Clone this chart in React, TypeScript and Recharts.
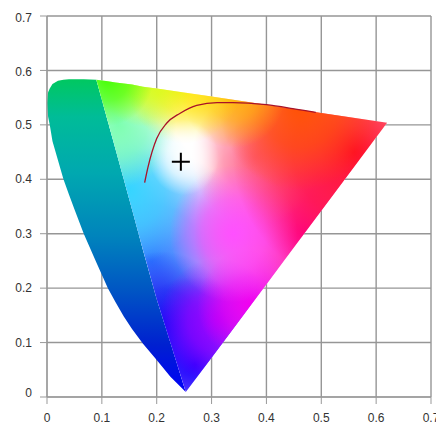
import { ComposedChart, Area, Line, Scatter, XAxis, YAxis, CartesianGrid } from 'recharts';

// u' / v' outline of the colour region
const wedgeU = [0, 0.002, 0.005, 0.01, 0.02, 0.03, 0.04, 0.05, 0.067, 0.09, 0.111, 0.125, 0.14, 0.155, 0.175, 0.2, 0.225, 0.253];
const wedgeLow = [0.54, 0.515, 0.5, 0.47, 0.435, 0.4, 0.372, 0.345, 0.3, 0.247, 0.2, 0.174, 0.148, 0.125, 0.098, 0.068, 0.037, 0.009];
const wedgeHigh = [0.54, 0.56, 0.567, 0.575, 0.581, 0.583, 0.584, 0.584, 0.584, 0.583, 0.506, 0.455, 0.4, 0.345, 0.27, 0.18, 0.1, 0.009];

const fanU = [0.09, 0.111, 0.125, 0.14, 0.155, 0.175, 0.2, 0.225, 0.253, 0.3, 0.4, 0.5, 0.62];
const fanLow = [0.583, 0.506, 0.455, 0.4, 0.345, 0.27, 0.18, 0.1, 0.009, 0.072, 0.207, 0.342, 0.504];
const fanHigh = [0.583, 0.58, 0.578, 0.576, 0.574, 0.57, 0.567, 0.563, 0.559, 0.552, 0.537, 0.522, 0.504];

// black body curve
const curveU = [0.178, 0.184, 0.2, 0.218, 0.242, 0.273, 0.31, 0.339, 0.4, 0.448, 0.49];
const curveV = [0.394, 0.422, 0.475, 0.503, 0.521, 0.536, 0.541, 0.541, 0.537, 0.53, 0.523];

const markerU = [0.244];
const markerV = [0.432];

const xTicks = [0, 0.1, 0.2, 0.3, 0.4, 0.5, 0.6, 0.7];
const yTicks = [0, 0.1, 0.2, 0.3, 0.4, 0.5, 0.6, 0.7];

const wedgeData = wedgeU.map((u, i) => ({ u, range: [wedgeLow[i], wedgeHigh[i]] }));
const fanData = fanU.map((u, i) => ({ u, range: [fanLow[i], fanHigh[i]] }));
const curveData = curveU.map((u, i) => ({ u, v: curveV[i] }));
const markerData = markerU.map((u, i) => ({ u, v: markerV[i] }));

// soft colour patches laid over the white fan: [u, v, radius, colour]
const patches: [number, number, number, string][] = [
  [0.19, 0.25, 0.36, '#2f7cff'],
  [0.15, 0.38, 0.24, '#35d5ff'],
  [0.13, 0.5, 0.2, '#7dffb0'],
  [0.47, 0.3, 0.38, '#ff00a0'],
  [0.38, 0.44, 0.22, '#ff7090'],
  [0.21, 0.13, 0.24, '#1410f0'],
  [0.27, 0.06, 0.28, '#2000ff'],
  [0.31, 0.14, 0.2, '#a000ff'],
  [0.37, 0.17, 0.18, '#f000f0'],
  [0.34, 0.3, 0.22, '#ff50ff'],
  [0.56, 0.45, 0.42, '#ff0a28'],
  [0.46, 0.54, 0.28, '#ff5000'],
  [0.34, 0.56, 0.18, '#ffb000'],
  [0.25, 0.58, 0.2, '#ffe800'],
  [0.18, 0.6, 0.18, '#d0ff10'],
  [0.11, 0.59, 0.16, '#40ff00'],
  [0.25, 0.44, 0.12, '#ffffff'],
];

const fx = (u: number) => (u - 0.09) / 0.53;
const fy = (v: number) => (0.583 - v) / 0.574;

function Plus(props: any) {
  const { cx, cy } = props;
  return <path d={`M${cx - 9} ${cy}H${cx + 9}M${cx} ${cy - 9}V${cy + 9}`} stroke="#000" strokeWidth={2} fill="none" />;
}

function YTick(props: any) {
  const { x, y, payload } = props;
  const nudge = payload.value === 0 ? -4 : payload.value >= 0.6 ? 2 : 0;
  return (
    <text x={x} y={y + nudge} dy={4} textAnchor="end" fontSize={12} fontFamily="Liberation Sans" fill="#333">
      {payload.value}
    </text>
  );
}

export default function App() {
  return (
    <div style={{ position: 'absolute', left: 0, top: 0, width: 436, height: 428, overflow: 'hidden' }}>
      <ComposedChart width={436} height={428} margin={{ top: 16, right: 5, left: 0, bottom: 0 }}>
        <defs>
          <linearGradient id="wedgeFill" x1="0" y1="0" x2="0" y2="1">
            <stop offset="0" stopColor="#00c860" />
            <stop offset="0.12" stopColor="#00bc98" />
            <stop offset="0.3" stopColor="#00a8b0" />
            <stop offset="0.5" stopColor="#0084bc" />
            <stop offset="0.68" stopColor="#0054c4" />
            <stop offset="0.85" stopColor="#0020d0" />
            <stop offset="1" stopColor="#0000f8" />
          </linearGradient>
          {patches.map(([u, v, r, colour], i) => (
            <radialGradient key={i} id={`patch${i}`} cx={fx(u)} cy={fy(v)} r={r}>
              <stop offset="0" stopColor={colour} stopOpacity={1} />
              <stop offset="0.5" stopColor={colour} stopOpacity={0.65} />
              <stop offset="1" stopColor={colour} stopOpacity={0} />
            </radialGradient>
          ))}
        </defs>
        <XAxis
          dataKey="u"
          type="number"
          domain={[0, 0.7]}
          ticks={xTicks}
          interval={0}
          height={31}
          tickSize={7}
          tickMargin={9}
          stroke="#999"
          tick={{ fontSize: 12, fontFamily: 'Liberation Sans', fill: '#333' }}
        />
        <YAxis
          type="number"
          domain={[0, 0.7]}
          ticks={yTicks}
          interval={0}
          width={47}
          tickSize={7}
          tickMargin={8}
          stroke="#999"
          tick={<YTick />}
        />
        <Area data={wedgeData} dataKey="range" type="linear" fill="url(#wedgeFill)" fillOpacity={1} stroke="none" isAnimationActive={false} />
        <Area data={fanData} dataKey="range" type="linear" fill="#fff" fillOpacity={1} stroke="none" isAnimationActive={false} />
        {patches.map((_, i) => (
          <Area
            key={i}
            data={fanData}
            dataKey="range"
            type="linear"
            fill={`url(#patch${i})`}
            fillOpacity={1}
            stroke="none"
            isAnimationActive={false}
          />
        ))}
        <CartesianGrid stroke="#969696" strokeWidth={1.4} />
        <Line data={curveData} dataKey="v" type="monotone" stroke="#a81228" strokeWidth={1.3} dot={false} isAnimationActive={false} />
        <Scatter data={markerData} dataKey="v" shape={<Plus />} isAnimationActive={false} />
      </ComposedChart>
    </div>
  );
}
